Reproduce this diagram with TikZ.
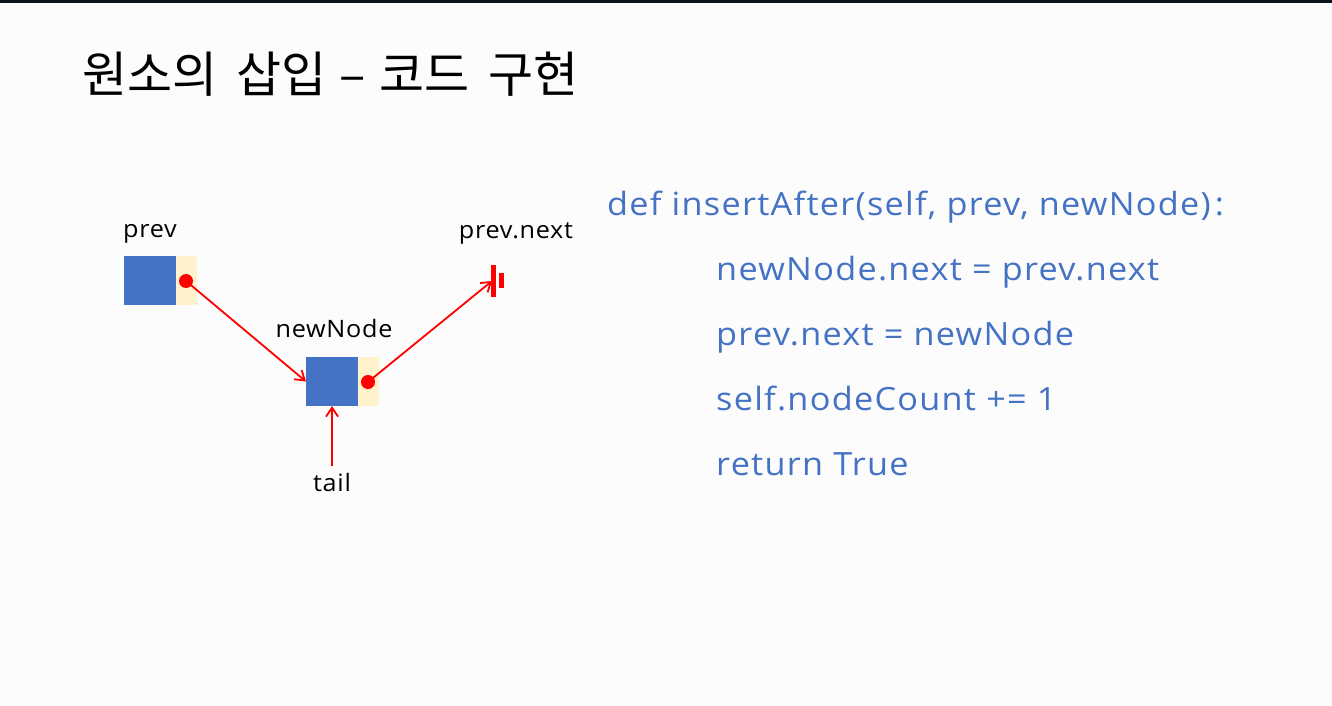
\documentclass[tikz,border=0pt]{standalone}
\usepackage{fontspec}
\setmainfont{Open Sans}
\newfontfamily\hangulfont{Noto Sans CJK KR}
\newfontfamily\codefont[FakeStretch=1.07, LetterSpace=4]{Open Sans}
\newfontfamily\labelfont[FakeStretch=1.05, LetterSpace=3]{Open Sans}
\usetikzlibrary{arrows.meta}
\definecolor{topbar}{HTML}{0A1520}
\definecolor{boxblue}{HTML}{4472C4}
\definecolor{boxbeige}{HTML}{FFF2CC}
\definecolor{codeblue}{HTML}{4472C4}
\definecolor{linkred}{HTML}{FF0000}
\begin{document}
\begin{tikzpicture}[x=1pt,y=-1pt,
  datafield/.style={fill=boxblue, draw=none, minimum width=52pt, minimum height=49pt, inner sep=0pt, outer sep=0pt},
  linkfield/.style={fill=boxbeige, draw=none, minimum width=21pt, minimum height=49pt, inner sep=0pt, outer sep=0pt},
  dot/.style={circle, fill=linkred, minimum size=14pt, inner sep=0pt},
  lbl/.style={font=\labelfont\fontsize{24}{28}\selectfont, text=black, inner sep=0pt},
  codeline/.style={font=\codefont\fontsize{32}{38}\selectfont, text=codeblue, anchor=base west, inner sep=0pt},
  link/.style={draw=linkred, line width=1.8pt, -{Straight Barb[length=9pt, width=12pt, line width=1.8pt]}}]
  \useasboundingbox (0,0) rectangle (1332,706);
  \fill[white!99!black] (0,0) rectangle (1332,706);
  \fill[topbar] (0,0) rectangle (1332,3);

  % title
  \node[anchor=base west, inner sep=0pt, font=\hangulfont\fontsize{49}{56}\selectfont] (title) at (82,93) {원소의\hspace{8pt} 삽입\hspace{2pt} –\hspace{3pt} 코드\hspace{8pt} 구현};

  % prev node
  \node[datafield, anchor=north west] (prevdata) at (124,256) {};
  \node[linkfield, anchor=west] (prevlink) at (prevdata.east) {};
  \node[dot] (prevdot) at (186,281) {};
  \node[lbl] (prevlbl) at (150,234) {prev};

  % new node
  \node[datafield, anchor=north west] (newdata) at (306,357) {};
  \node[linkfield, anchor=west] (newlink) at (newdata.east) {};
  \node[dot] (newdot) at (368,382) {};
  \node[lbl] (newlbl) at (334,328) {newNode};

  % tail
  \node[lbl] (taillbl) at (332,482) {tail};

  % prev.next (terminator)
  \node[lbl] (nextlbl) at (516,233) {prev.next};
  \coordinate (ground) at (492,281);
  \fill[linkred] (491,265) rectangle (496,297);
  \fill[linkred] (499,273) rectangle (504,288);

  % connectors
  \draw[link] (prevdot.center) -- (newdata.west);
  \draw[link] (newdot.center) -- (ground);
  \draw[link] (taillbl.north) ++(0,-7) coordinate (tailtop) (tailtop) -- (newdata.south);

  % code
  \node[codeline] (c0) at (607,215) {def insertAfter(self, prev, newNode)\hspace{4pt}:};
  \node[codeline] (c1) at (716,280) {newNode.next = prev.next};
  \node[codeline] (c2) at (716,345) {prev.next = newNode};
  \node[codeline] (c3) at (716,410) {self.nodeCount += 1};
  \node[codeline] (c4) at (716,475) {return True};
\end{tikzpicture}
\end{document}
